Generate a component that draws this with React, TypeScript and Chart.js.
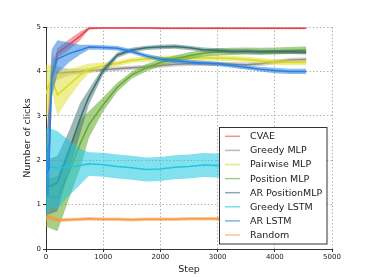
import React, { useEffect, useRef } from "react";
import { Chart, registerables } from "chart.js";
Chart.register(...registerables);

const STEPS = [0, 50, 100, 200, 400, 600, 750, 1000, 1250, 1500, 1750, 2000, 2250, 2500, 2750, 3000, 3250, 3500, 3750, 4000, 4250, 4550];

const SERIES_NAMES = ["CVAE", "Greedy MLP", "Pairwise MLP", "Position MLP", "AR PositionMLP", "Greedy LSTM", "AR LSTM", "Random"];

const CVAE_MEAN = [1.6, 2.7, 3.8, 4.41, 4.6, 4.8, 4.97, 4.98, 4.98, 4.98, 4.98, 4.97, 4.97, 4.97, 4.97, 4.97, 4.97, 4.97, 4.97, 4.97, 4.97, 4.97];
const CVAE_LO = [1.3, 2.3, 3.5, 4.3, 4.48, 4.7, 4.94, 4.96, 4.96, 4.96, 4.96, 4.95, 4.95, 4.95, 4.95, 4.95, 4.95, 4.95, 4.95, 4.95, 4.95, 4.95];
const CVAE_HI = [1.9, 3.1, 4.1, 4.52, 4.72, 4.9, 5.0, 5.0, 5.0, 5.0, 5.0, 4.99, 4.99, 4.99, 4.99, 4.99, 4.99, 4.99, 4.99, 4.99, 4.99, 4.99];

const GREEDY_MLP_MEAN = [1.5, 3.0, 4.1, 3.96, 3.98, 4.0, 4.02, 4.04, 4.06, 4.08, 4.1, 4.13, 4.16, 4.17, 4.17, 4.17, 4.16, 4.15, 4.17, 4.21, 4.25, 4.27];
const GREEDY_MLP_LO = [0.9, 2.3, 3.65, 3.81, 3.9, 3.94, 3.97, 3.99, 4.01, 4.03, 4.05, 4.08, 4.11, 4.12, 4.12, 4.12, 4.11, 4.1, 4.12, 4.16, 4.2, 4.22];
const GREEDY_MLP_HI = [2.1, 3.7, 4.45, 4.11, 4.06, 4.06, 4.07, 4.09, 4.11, 4.13, 4.15, 4.18, 4.21, 4.22, 4.22, 4.22, 4.21, 4.2, 4.22, 4.26, 4.3, 4.32];

const PAIRWISE_MLP_MEAN = [3.5, 3.7, 3.85, 3.47, 3.7, 3.92, 4.05, 4.13, 4.18, 4.25, 4.28, 4.29, 4.3, 4.3, 4.3, 4.3, 4.29, 4.27, 4.24, 4.21, 4.2, 4.2];
const PAIRWISE_MLP_LO = [2.9, 3.2, 3.55, 3.0, 3.4, 3.75, 3.95, 4.07, 4.12, 4.19, 4.22, 4.23, 4.24, 4.24, 4.24, 4.24, 4.23, 4.21, 4.18, 4.15, 4.14, 4.14];
const PAIRWISE_MLP_HI = [4.15, 4.15, 4.15, 4.0, 4.05, 4.12, 4.18, 4.2, 4.24, 4.31, 4.34, 4.35, 4.36, 4.36, 4.36, 4.36, 4.35, 4.33, 4.3, 4.27, 4.26, 4.26];

const POSITION_MLP_MEAN = [1.2, 1.18, 1.17, 1.15, 1.72, 2.38, 2.8, 3.25, 3.65, 3.92, 4.08, 4.2, 4.28, 4.35, 4.41, 4.44, 4.45, 4.46, 4.45, 4.46, 4.47, 4.48];
const POSITION_MLP_LO = [0.5, 0.48, 0.45, 0.4, 1.12, 1.83, 2.5, 3.1, 3.55, 3.84, 4.0, 4.12, 4.2, 4.27, 4.33, 4.36, 4.37, 4.38, 4.37, 4.38, 4.39, 4.4];
const POSITION_MLP_HI = [1.6, 1.6, 1.6, 1.65, 2.3, 2.92, 3.1, 3.42, 3.75, 4.0, 4.16, 4.28, 4.36, 4.43, 4.49, 4.52, 4.53, 4.54, 4.53, 4.54, 4.55, 4.56];

const AR_POSITION_MLP_MEAN = [1.42, 1.42, 1.42, 1.5, 2.2, 2.95, 3.43, 4.02, 4.37, 4.48, 4.53, 4.55, 4.56, 4.53, 4.49, 4.47, 4.45, 4.45, 4.44, 4.44, 4.44, 4.43];
const AR_POSITION_MLP_LO = [0.75, 0.78, 0.8, 0.85, 1.75, 2.6, 3.25, 3.93, 4.31, 4.43, 4.48, 4.5, 4.51, 4.48, 4.44, 4.42, 4.4, 4.4, 4.39, 4.39, 4.39, 4.38];
const AR_POSITION_MLP_HI = [2.05, 2.05, 2.05, 2.1, 2.65, 3.3, 3.6, 4.1, 4.43, 4.53, 4.58, 4.6, 4.61, 4.58, 4.54, 4.52, 4.5, 4.5, 4.49, 4.49, 4.49, 4.48];

const GREEDY_LSTM_MEAN = [1.72, 1.85, 1.85, 1.82, 1.85, 1.88, 1.92, 1.9, 1.86, 1.83, 1.79, 1.8, 1.84, 1.86, 1.89, 1.88, 1.88, 1.9, 1.9, 1.88, 1.88, 1.88];
const GREEDY_LSTM_LO = [0.75, 0.85, 0.95, 0.9, 1.2, 1.45, 1.65, 1.63, 1.59, 1.56, 1.52, 1.53, 1.57, 1.59, 1.62, 1.61, 1.61, 1.63, 1.63, 1.61, 1.61, 1.61];
const GREEDY_LSTM_HI = [2.7, 2.72, 2.7, 2.65, 2.45, 2.25, 2.18, 2.17, 2.13, 2.1, 2.06, 2.07, 2.11, 2.13, 2.16, 2.15, 2.15, 2.17, 2.17, 2.15, 2.15, 2.15];

const AR_LSTM_MEAN = [1.7, 1.8, 3.9, 4.28, 4.4, 4.48, 4.55, 4.54, 4.52, 4.45, 4.35, 4.28, 4.24, 4.21, 4.19, 4.17, 4.13, 4.09, 4.05, 4.02, 4.0, 4.0];
const AR_LSTM_LO = [1.2, 1.2, 3.4, 3.95, 4.2, 4.38, 4.49, 4.49, 4.47, 4.4, 4.3, 4.23, 4.19, 4.16, 4.14, 4.12, 4.08, 4.04, 4.0, 3.96, 3.94, 3.94];
const AR_LSTM_HI = [2.2, 2.4, 4.5, 4.7, 4.65, 4.6, 4.6, 4.59, 4.57, 4.5, 4.4, 4.33, 4.29, 4.26, 4.24, 4.22, 4.18, 4.14, 4.1, 4.08, 4.06, 4.06];

const RANDOM_MEAN = [0.68, 0.72, 0.7, 0.65, 0.66, 0.67, 0.68, 0.67, 0.67, 0.66, 0.67, 0.67, 0.67, 0.68, 0.68, 0.68, 0.68, 0.68, 0.68, 0.68, 0.68, 0.68];
const RANDOM_LO = [0.62, 0.66, 0.64, 0.6, 0.62, 0.63, 0.64, 0.63, 0.63, 0.62, 0.63, 0.63, 0.63, 0.64, 0.64, 0.64, 0.64, 0.64, 0.64, 0.64, 0.64, 0.64];
const RANDOM_HI = [0.75, 0.78, 0.76, 0.7, 0.7, 0.71, 0.72, 0.71, 0.71, 0.7, 0.71, 0.71, 0.71, 0.72, 0.72, 0.72, 0.72, 0.72, 0.72, 0.72, 0.72, 0.72];

const X_TICKS = [0, 1000, 2000, 3000, 4000, 5000];
const Y_TICKS = [0, 1, 2, 3, 4, 5];

const LINE_COLORS = ["#e8464f", "#8a8a8a", "#dada24", "#64a83a", "#3b6f6f", "#1ec6e2", "#2a80e0", "#f89a42"];
const BAND_COLORS = [
  "rgba(232,70,79,0.5)",
  "rgba(150,150,150,0.45)",
  "rgba(222,222,40,0.5)",
  "rgba(110,175,55,0.6)",
  "rgba(60,112,112,0.5)",
  "rgba(30,198,226,0.55)",
  "rgba(42,128,224,0.55)",
  "rgba(248,154,66,0.55)",
];

const MEANS = [CVAE_MEAN, GREEDY_MLP_MEAN, PAIRWISE_MLP_MEAN, POSITION_MLP_MEAN, AR_POSITION_MLP_MEAN, GREEDY_LSTM_MEAN, AR_LSTM_MEAN, RANDOM_MEAN];
const LOWS = [CVAE_LO, GREEDY_MLP_LO, PAIRWISE_MLP_LO, POSITION_MLP_LO, AR_POSITION_MLP_LO, GREEDY_LSTM_LO, AR_LSTM_LO, RANDOM_LO];
const HIGHS = [CVAE_HI, GREEDY_MLP_HI, PAIRWISE_MLP_HI, POSITION_MLP_HI, AR_POSITION_MLP_HI, GREEDY_LSTM_HI, AR_LSTM_HI, RANDOM_HI];

const FONT = "'DejaVu Sans', sans-serif";

export default function App() {
  const ref = useRef<HTMLCanvasElement>(null);

  useEffect(() => {
    document.body.style.margin = "0";
    const canvas = ref.current;
    if (!canvas) return;
    const n = SERIES_NAMES.length;
    const pts = (arr: number[]) => STEPS.map((x, j) => ({ x, y: arr[j] }));
    const datasets: any[] = [];
    SERIES_NAMES.forEach((name, i) => {
      const k = n - 1 - i;
      datasets.push({
        label: name,
        data: pts(MEANS[i]),
        borderColor: LINE_COLORS[i],
        borderWidth: 1.5,
        pointRadius: 0,
        fill: false,
        order: k * 3,
      });
      datasets.push({
        label: name + " upper",
        data: pts(HIGHS[i]),
        borderColor: "transparent",
        borderWidth: 0,
        pointRadius: 0,
        backgroundColor: BAND_COLORS[i],
        fill: "+1",
        order: k * 3 + 1,
      });
      datasets.push({
        label: name + " lower",
        data: pts(LOWS[i]),
        borderColor: "transparent",
        borderWidth: 0,
        pointRadius: 0,
        fill: false,
        order: k * 3 + 2,
      });
    });

    const legendPlugin = {
      id: "boxLegend",
      afterDraw(chart: any) {
        const c = chart.ctx;
        const x0 = 219.5, y0 = 127.5, w = 107.5, h = 116.5;
        c.save();
        c.fillStyle = "#ffffff";
        c.fillRect(x0, y0, w, h);
        c.strokeStyle = "#333333";
        c.lineWidth = 1;
        c.strokeRect(x0, y0, w, h);
        c.font = `9.5px ${FONT}`;
        c.textBaseline = "middle";
        c.textAlign = "left";
        SERIES_NAMES.forEach((name, i) => {
          const y = 136.3 + i * 14.1;
          c.globalAlpha = 0.6;
          c.strokeStyle = LINE_COLORS[i];
          c.lineWidth = 1.5;
          c.beginPath();
          c.moveTo(225, y);
          c.lineTo(240, y);
          c.stroke();
          c.globalAlpha = 1;
          c.fillStyle = "#222222";
          c.fillText(name, 250, y + 0.5);
        });
        c.restore();
      },
    };

    const chart = new Chart(canvas, {
      type: "line",
      data: { datasets },
      options: {
        animation: false,
        responsive: false,
        devicePixelRatio: 1,
        layout: { padding: { left: 22, top: 27, right: 37, bottom: 2 } },
        plugins: {
          legend: { display: false },
          tooltip: { enabled: false },
          filler: { drawTime: "beforeDatasetDraw" },
        },
        elements: { line: { tension: 0 } },
        scales: {
          x: {
            type: "linear",
            min: 0,
            max: 5000,
            afterBuildTicks: (s: any) => {
              s.ticks = X_TICKS.map((v) => ({ value: v }));
            },
            afterFit: (s: any) => {
              s.height = 26;
            },
            ticks: {
              font: { family: FONT, size: 7 },
              color: "#222",
              padding: 1,
              maxRotation: 0,
              callback: (v: any) => String(v),
            },
            grid: {
              color: (ctx: any) => (ctx.tick && ctx.tick.value === 0 ? "transparent" : "#b4b4b4"),
              lineWidth: 1,
              tickLength: 3,
              tickColor: "#333",
            },
            border: { display: true, color: "#333", width: 1, dash: [1.5, 2] },
            title: { display: true, text: "Step", font: { family: FONT, size: 9.5 }, color: "#222", padding: 0 },
          },
          y: {
            type: "linear",
            min: 0,
            max: 5,
            afterBuildTicks: (s: any) => {
              s.ticks = Y_TICKS.map((v) => ({ value: v }));
            },
            afterFit: (s: any) => {
              s.width = 24;
            },
            ticks: {
              font: { family: FONT, size: 7 },
              color: "#222",
              padding: 2,
              callback: (v: any) => String(v),
            },
            grid: {
              color: (ctx: any) => (ctx.tick && ctx.tick.value === 0 ? "transparent" : "#b4b4b4"),
              lineWidth: 1,
              tickLength: 3,
              tickColor: "#333",
            },
            border: { display: true, color: "#333", width: 1, dash: [1.5, 2] },
            title: { display: true, text: "Number of clicks", font: { family: FONT, size: 9.5 }, color: "#222", padding: 0 },
          },
        },
      },
      plugins: [legendPlugin],
    });
    return () => chart.destroy();
  }, []);

  return (
    <div style={{ width: 369, height: 277 }}>
      <canvas ref={ref} width={369} height={277} style={{ display: "block", width: 369, height: 277 }} />
    </div>
  );
}
